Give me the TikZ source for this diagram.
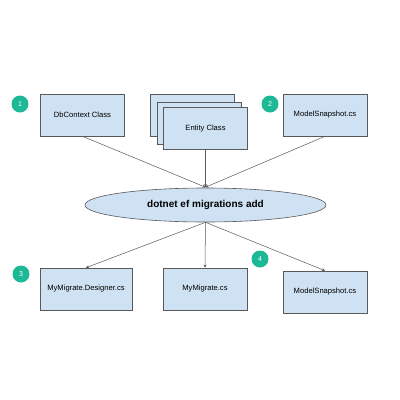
\documentclass[tikz,border=0pt]{standalone}
\usepackage{fontspec}
\setmainfont{Liberation Sans}
\usetikzlibrary{shapes.geometric,arrows.meta}
\definecolor{boxfill}{HTML}{CFE2F3}
\definecolor{boxdraw}{HTML}{595959}
\definecolor{badge}{HTML}{1DB996}
\tikzset{
  box/.style={draw=boxdraw, fill=boxfill, line width=0.6pt, minimum width=84pt, minimum height=42pt, inner sep=0pt, font=\fontsize{7.6}{9}\selectfont},
  num/.style={circle, fill=badge, minimum size=17pt, inner sep=0pt, text=white, font=\fontsize{7}{8}\selectfont},
  conn/.style={draw=boxdraw, line width=0.5pt, -{Stealth[length=3pt,width=3pt]}},
}
\begin{document}
\begin{tikzpicture}[x=1pt,y=-1pt]
\useasboundingbox[fill=white] (0,0) rectangle (400,400);
\node[box] (db) at (82.5,115) {DbContext Class};
\node[box] (e3) at (192,115.5) {};
\node[box] (e2) at (199,123) {};
\node[box] (ent) at (205.5,128.5) {Entity Class};
\node[box] (ms1) at (325,115) {ModelSnapshot.cs};
\node[num] (n1) at (20,104) {1};
\node[num] (n2) at (270,104) {2};
\node[ellipse, draw=boxdraw, fill=boxfill, line width=0.6pt, minimum width=241pt, minimum height=34pt, inner sep=0pt, font=\fontsize{10}{12}\selectfont\bfseries] (cmd) at (205.5,205) {dotnet ef migrations add};
\node[box, minimum width=92pt] (des) at (86,289) {MyMigrate.Designer.cs};
\node[box] (mig) at (205,289) {MyMigrate.cs};
\node[box] (ms2) at (325,292) {ModelSnapshot.cs};
\node[num] (n3) at (21,274) {3};
\node[num] (n4) at (260,259) {4};
\path (cmd.north) ++(0,-0.5) coordinate (top);
\draw[conn] (db.south) ++(0,0) -- (top);
\draw[conn] (ent.south) -- (top);
\draw[conn] (ms1.south) -- (top);
\draw[conn] (cmd.south) -- (des.north);
\draw[conn] (cmd.south) -- (mig.north);
\draw[conn] (cmd.south) -- (ms2.north);
\end{tikzpicture}
\end{document}
